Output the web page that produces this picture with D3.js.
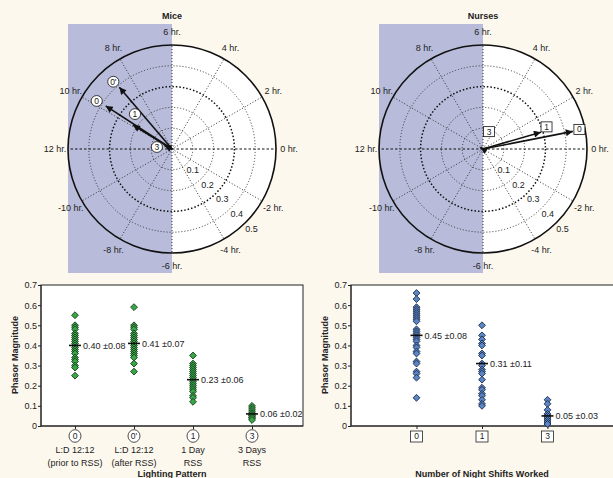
<!DOCTYPE html>
<html>
<head>
<meta charset="utf-8">
<script src="https://cdn.jsdelivr.net/npm/d3@7"></script>
<style>
  body { margin: 0; background: #fdf8ee; }
  text { font-family: "Liberation Sans Narrow", "Arial Narrow", "Liberation Sans", Arial, sans-serif; fill: #222; }
</style>
</head>
<body>
<svg id="chart" width="613" height="478"></svg>
<script>
// ---- phasor vectors (peak hour, magnitude) ----
const miceLabels = ["0", "0'", "1", "3"];
const miceHours  = [9.8, 8.7, 9.9, 10.4];
const miceMags   = [0.38, 0.39, 0.22, 0.04];

const nurseLabels = ["0", "1", "3"];
const nurseHours  = [0.74, 1.08, 10];
const nurseMags   = [0.44, 0.29, 0.015];

const hourTicks = [0, 2, 4, 6, 8, 10, 12, -10, -8, -6, -4, -2];
const ringTicks = [0.1, 0.2, 0.3, 0.4, 0.5];

// ---- scatter data ----
const magTicks = [0, 0.1, 0.2, 0.3, 0.4, 0.5, 0.6, 0.7];

const mouseCats  = ["0", "0'", "1", "3"];
const mouseLine1 = ["L:D 12:12", "L:D 12:12", "1 Day", "3 Days"];
const mouseLine2 = ["(prior to RSS)", "(after RSS)", "RSS", "RSS"];
const mousePrior = [0.55, 0.50, 0.49, 0.48, 0.46, 0.45, 0.44, 0.43, 0.42, 0.41, 0.40, 0.39, 0.38, 0.37, 0.36, 0.34, 0.33, 0.32, 0.30, 0.29, 0.25];
const mouseAfter = [0.59, 0.50, 0.49, 0.48, 0.46, 0.45, 0.44, 0.43, 0.42, 0.41, 0.40, 0.39, 0.38, 0.37, 0.36, 0.35, 0.34, 0.31, 0.27];
const mouse1Day  = [0.35, 0.31, 0.30, 0.29, 0.28, 0.27, 0.26, 0.25, 0.24, 0.23, 0.22, 0.21, 0.20, 0.19, 0.18, 0.17, 0.15, 0.14, 0.12];
const mouse3Day  = [0.10, 0.09, 0.08, 0.07, 0.06, 0.06, 0.05, 0.05, 0.04, 0.04, 0.03];
const mouseMeans = [0.40, 0.41, 0.23, 0.06];
const mouseSDs   = [0.08, 0.07, 0.06, 0.02];

const nurseCats   = ["0", "1", "3"];
const nurse0Shift = [0.66, 0.63, 0.59, 0.58, 0.57, 0.56, 0.55, 0.54, 0.53, 0.52, 0.48, 0.47, 0.46, 0.45, 0.44, 0.43, 0.42, 0.40, 0.39, 0.37, 0.36, 0.32, 0.31, 0.27, 0.26, 0.24, 0.14];
const nurse1Shift = [0.50, 0.45, 0.43, 0.41, 0.40, 0.36, 0.35, 0.31, 0.30, 0.28, 0.27, 0.26, 0.23, 0.19, 0.18, 0.16, 0.15, 0.13, 0.11, 0.10];
const nurse3Shift = [0.13, 0.11, 0.08, 0.06, 0.05, 0.04, 0.03, 0.02, 0.01, 0.01];
const nurseMeans  = [0.45, 0.31, 0.05];
const nurseSDs    = [0.08, 0.11, 0.03];

const svg = d3.select("#chart");

svg.append("defs").append("marker")
    .attr("id", "head")
    .attr("viewBox", "0 0 10 10")
    .attr("refX", 10).attr("refY", 5)
    .attr("markerUnits", "userSpaceOnUse")
    .attr("markerWidth", 10).attr("markerHeight", 7)
    .attr("orient", "auto")
  .append("path")
    .attr("d", "M0,0 L10,5 L0,10 z")
    .attr("fill", "#111");

// polar panel
function polar(cx, cy, title, labels, hours, mags, tagShape, tagOffsets) {
  const R = 104;
  const r = d3.scaleLinear().domain([0, 0.5]).range([0, R]);
  const ang = d3.scaleLinear().domain([0, 24]).range([0, 2 * Math.PI]);
  const px = (h, m) => cx + r(m) * Math.cos(ang(h));
  const py = (h, m) => cy - r(m) * Math.sin(ang(h));

  const g = svg.append("g");

  g.append("text").attr("x", cx).attr("y", 19)
    .attr("text-anchor", "middle").attr("font-size", 9).attr("font-weight", "bold")
    .text(title);

  g.append("circle").attr("cx", cx).attr("cy", cy).attr("r", R).attr("fill", "#fff");
  g.append("rect").attr("x", cx - R).attr("y", 24).attr("width", R).attr("height", 249)
    .attr("fill", "#b8bcda");

  // rings
  g.selectAll(".ring").data(ringTicks.slice(0, -1)).join("circle")
    .attr("cx", cx).attr("cy", cy).attr("r", d => r(d))
    .attr("fill", "none")
    .attr("stroke", d => d === 0.3 ? "#111" : "#333")
    .attr("stroke-width", d => d === 0.3 ? 1.5 : 1)
    .attr("stroke-dasharray", d => d === 0.3 ? "1.5,2" : "1,2");

  // spokes
  g.selectAll(".spoke").data(hourTicks).join("line")
    .attr("x1", cx).attr("y1", cy)
    .attr("x2", d => px(d, 0.5)).attr("y2", d => py(d, 0.5))
    .attr("stroke", d => (d === 0 || d === 12) ? "#111" : "#333")
    .attr("stroke-width", 1)
    .attr("stroke-dasharray", d => (d === 0 || d === 12) ? "2.5,2" : "1,2");

  g.append("circle").attr("cx", cx).attr("cy", cy).attr("r", R)
    .attr("fill", "none").attr("stroke", "#111").attr("stroke-width", 1.6);

  // hour labels
  g.selectAll(".hl").data(hourTicks).join("text")
    .attr("x", d => cx + (R + 13) * Math.cos(ang(d)))
    .attr("y", d => cy - (R + 13) * Math.sin(ang(d)))
    .attr("dy", "0.35em")
    .attr("text-anchor", "middle").attr("font-size", 9)
    .text(d => d + " hr.");

  // magnitude labels along -3 hr
  g.selectAll(".ml").data(ringTicks).join("text")
    .attr("x", d => cx + (r(d) + 8.5) * Math.cos(ang(-3)))
    .attr("y", d => cy - (r(d) + 8.5) * Math.sin(ang(-3)))
    .attr("dy", "0.35em")
    .attr("text-anchor", "middle").attr("font-size", 9)
    .text(d => d);

  // vectors
  labels.forEach((lab, i) => {
    g.append("line")
      .attr("x1", cx).attr("y1", cy)
      .attr("x2", px(hours[i], mags[i])).attr("y2", py(hours[i], mags[i]))
      .attr("stroke", "#111").attr("stroke-width", 1.6)
      .attr("marker-end", "url(#head)");
  });

  labels.forEach((lab, i) => {
    const tx = px(hours[i], mags[i]) + tagOffsets[i][0];
    const ty = py(hours[i], mags[i]) + tagOffsets[i][1];
    if (tagShape === "circle") {
      g.append("ellipse").attr("cx", tx).attr("cy", ty).attr("rx", 5.6).attr("ry", 5.4)
        .attr("fill", "#fff").attr("stroke", "#111").attr("stroke-width", 0.8);
    } else {
      g.append("rect").attr("x", tx - 5.5).attr("y", ty - 5).attr("width", 11).attr("height", 10)
        .attr("fill", "#fff").attr("stroke", "#111").attr("stroke-width", 0.8);
    }
    g.append("text").attr("x", tx).attr("y", ty).attr("dy", "0.35em")
      .attr("text-anchor", "middle").attr("font-size", 8.5).text(lab);
  });
}

polar(172, 149, "Mice", miceLabels, miceHours, miceMags, "circle",
      [[-9, -5], [-6, -5.6], [2, -11], [-7.5, 1.4]]);
polar(483, 149, "Nurses", nurseLabels, nurseHours, nurseMags, "box",
      [[6.6, -2], [5.6, -5.3], [8.7, -15.8]]);

// scatter panel
function scatter(x0, x1, cats, columns, means, sds, fill, stroke, xScale, title, tagShape, line1, line2) {
  const y = d3.scaleLinear().domain([0, 0.7]).range([426, 285]);
  const g = svg.append("g");

  g.append("rect").attr("x", x0).attr("y", 285).attr("width", x1 - x0).attr("height", 141)
    .attr("fill", "#fff").attr("stroke", "#222").attr("stroke-width", 1);

  const yAxis = g.append("g").attr("transform", `translate(${x0},0)`)
    .call(d3.axisLeft(y).tickValues(magTicks).tickSize(3).tickSizeOuter(0)
      .tickFormat(d => d === 0 ? "0" : d3.format(".1f")(d)));
  const xAxis = g.append("g").attr("transform", "translate(0,426)")
    .call(d3.axisBottom(xScale).tickSize(3).tickSizeOuter(0).tickFormat(""));
  [yAxis, xAxis].forEach(a => {
    a.select(".domain").remove();
    a.selectAll("line").attr("stroke", "#222");
    a.selectAll("text").attr("font-size", 9).attr("fill", "#222").attr("font-family", null);
  });
  yAxis.selectAll("text").attr("x", -4);
  g.append("line").attr("x1", x0).attr("x2", x0).attr("y1", 285).attr("y2", 426).attr("stroke", "#222");
  g.append("line").attr("x1", x0).attr("x2", x1).attr("y1", 426).attr("y2", 426).attr("stroke", "#222");

  g.append("text").attr("transform", `translate(${x0 - 23},355) rotate(-90)`)
    .attr("text-anchor", "middle").attr("font-size", 9).attr("font-weight", "bold")
    .text("Phasor Magnitude");

  const diamond = d3.symbol().type(d3.symbolDiamond2).size(30);
  cats.forEach((c, i) => {
    const cx = xScale(c);
    g.selectAll(null).data(columns[i]).join("path")
      .attr("transform", d => `translate(${cx},${y(d)})`)
      .attr("d", diamond)
      .attr("fill", fill).attr("stroke", stroke).attr("stroke-width", 0.9);
    g.append("line").attr("x1", cx - 6).attr("x2", cx + 6)
      .attr("y1", y(means[i])).attr("y2", y(means[i]))
      .attr("stroke", "#111").attr("stroke-width", 1.6);
    g.append("text").attr("x", cx + 8).attr("y", y(means[i])).attr("dy", "0.35em")
      .attr("font-size", 9).text(d3.format(".2f")(means[i]) + " \u00b1" + d3.format(".2f")(sds[i]));

    // category tag
    if (tagShape === "circle") {
      g.append("ellipse").attr("cx", cx).attr("cy", 436).attr("rx", 6).attr("ry", 6.3)
        .attr("fill", "#fff").attr("stroke", "#222").attr("stroke-width", 0.8);
    } else {
      g.append("rect").attr("x", cx - 6).attr("y", 431).attr("width", 12).attr("height", 11)
        .attr("fill", "#fff").attr("stroke", "#222").attr("stroke-width", 0.8);
    }
    g.append("text").attr("x", cx).attr("y", 436.5).attr("dy", "0.35em")
      .attr("text-anchor", "middle").attr("font-size", 8.5).text(c);
    if (line1) {
      g.append("text").attr("x", cx).attr("y", 450).attr("dy", "0.35em")
        .attr("text-anchor", "middle").attr("font-size", 9).text(line1[i]);
      g.append("text").attr("x", cx).attr("y", 462.5).attr("dy", "0.35em")
        .attr("text-anchor", "middle").attr("font-size", 9).text(line2[i]);
    }
  });

  g.append("text").attr("x", (x0 + Math.min(x1, 613)) / 2).attr("y", 473.5).attr("dy", "0.35em")
    .attr("text-anchor", "middle").attr("font-size", 9).attr("font-weight", "bold")
    .text(title);
}

const mouseX = d3.scalePoint().domain(mouseCats).range([41 + 34, 303 - 51]);
scatter(41, 303, mouseCats, [mousePrior, mouseAfter, mouse1Day, mouse3Day], mouseMeans, mouseSDs,
        "#35a845", "#1d3b22", mouseX, "Lighting Pattern", "circle", mouseLine1, mouseLine2);

const nurseX = d3.scalePoint().domain(nurseCats).range([351, 613]).padding(1);
scatter(351, 620, nurseCats, [nurse0Shift, nurse1Shift, nurse3Shift], nurseMeans, nurseSDs,
        "#5a86c6", "#1d2a48", nurseX, "Number of Night Shifts Worked", "box", null, null);
</script>
</body>
</html>
